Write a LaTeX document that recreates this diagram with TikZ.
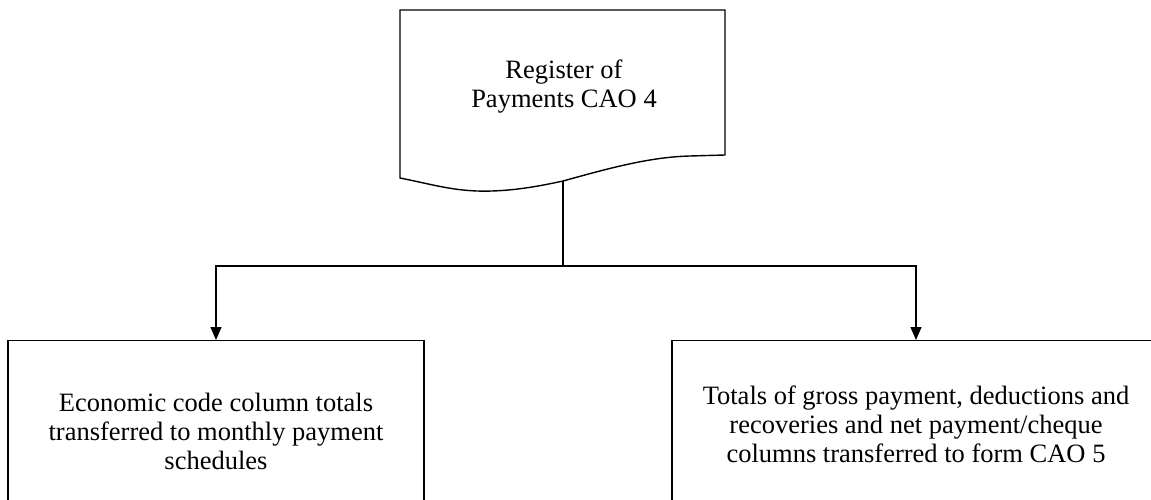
\documentclass[tikz,border=0pt]{standalone}
\usepackage{fontspec}
\setmainfont{Liberation Serif}
\usetikzlibrary{arrows.meta}
\begin{document}
\begin{tikzpicture}[x=1pt,y=-1pt,
  line/.style={draw=black,line width=1.4pt},
  arr/.style={line,-{Triangle[length=13pt,width=11pt]}},
  txt/.style={font=\fontsize{26.5}{29}\selectfont,align=center,inner sep=0pt},
  boxnode/.style={line,rectangle,txt,anchor=north}]
\useasboundingbox (0,0) rectangle (1151,500);
\clip (0,0) rectangle (1151,500);
\fill[white] (0,0) rectangle (1151,500);
% document shape
\draw[line,line join=miter] (400,10) -- (725,10) -- (725,155) -- (690,156)
  .. controls (650,157) and (610,168) .. (563,181)
  .. controls (540,186) and (510,192) .. (477,191)
  .. controls (450,190) and (430,184) .. (400,178) -- cycle;
\node[txt] (doc) at (564,87) {Register of\\Payments CAO 4};
\coordinate (docbot) at (563,181);
\coordinate (split) at (563,266);
% boxes
\node[boxnode,minimum width=416pt,minimum height=182pt] (left) at (216,340)
  {Economic code column totals\\transferred to monthly payment\\schedules};
\node[boxnode,minimum width=488pt,minimum height=168pt] (right) at (916,340)
  {Totals of gross payment, deductions and\\recoveries and net payment/cheque\\columns transferred to form CAO 5};
% connectors
\draw[line] (docbot) -- (split);
\draw[arr] (split) -| (left.north);
\draw[arr] (split) -| (right.north);
\end{tikzpicture}
\end{document}
